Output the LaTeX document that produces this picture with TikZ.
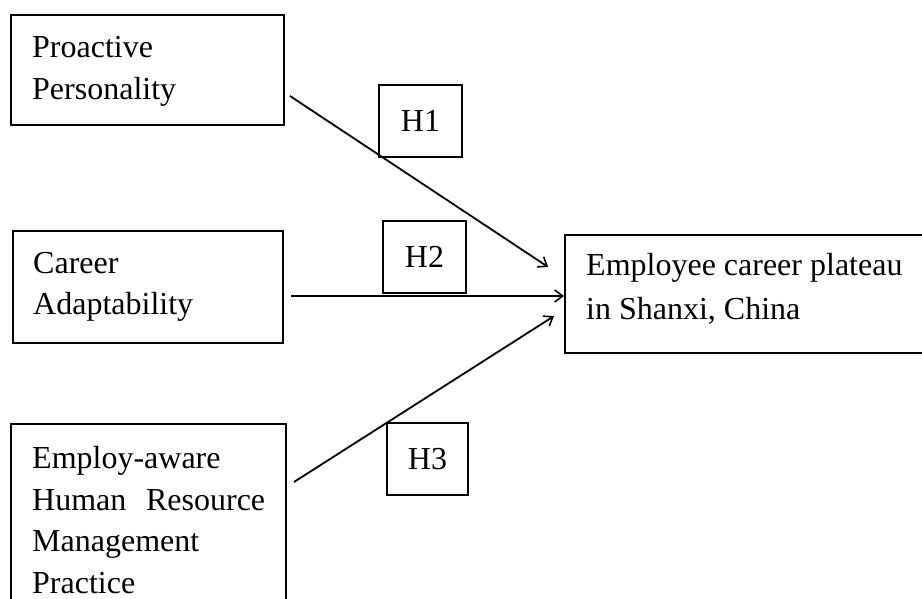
\documentclass[tikz,border=0pt]{standalone}
\usepackage{fontspec}
\setmainfont{Liberation Serif}
\usetikzlibrary{arrows.meta,calc}
\begin{document}
\begin{tikzpicture}[x=1pt,y=-1pt,
  boxnode/.style={draw=black,line width=2pt,rectangle,inner sep=0pt},
  txt/.style={anchor=base west,inner sep=0pt,font=\fontsize{32}{42}\selectfont},
  hbox/.style={draw=black,line width=2pt,rectangle,inner sep=0pt,
    font=\fontsize{32}{42}\selectfont},
  arr/.style={line width=1.8pt,-{Straight Barb[length=8pt,width=12pt,line width=1.6pt]}}]
\clip (0,0) rectangle (922,599);
\fill[white] (0,0) rectangle (922,599);
% boxes
\node[boxnode,minimum width=273pt,minimum height=110pt] (pp) at (147.5,70) {};
\node[boxnode,minimum width=270pt,minimum height=112pt] (ca) at (148,287) {};
\node[boxnode,minimum width=275pt,minimum height=216pt] (eh) at (148.5,532) {};
\node[boxnode,minimum width=370pt,minimum height=118pt] (tg) at (750,294) {};
% hypothesis boxes
\node[hbox,minimum width=83pt,minimum height=72pt] (h1) at (420.5,121) {H1};
\node[hbox,minimum width=83pt,minimum height=72pt] (h2) at (424.5,257) {H2};
\node[hbox,minimum width=81pt,minimum height=72pt] (h3) at (427.5,459) {H3};
% texts
\node[txt] (t1a) at (32,58) {Proactive};
\node[txt] (t1b) at (32,100) {Personality};
\node[txt] (t2a) at (33,273) {Career};
\node[txt] (t2b) at (33,314) {Adaptability};
\node[txt] (t3a) at (32,468) {Employ-aware};
\node[txt] (t3b) at (32,510) {\makebox[233pt][s]{Human Resource}};
\node[txt] (t3c) at (32,551) {Management};
\node[txt] (t3d) at (32,593) {Practice};
\node[txt] (t4a) at (586,275) {Employee career plateau};
\node[txt] (t4b) at (586,319) {in Shanxi, China};
% connectors
\draw[arr,shorten >=19pt] ($(pp.north east)+(5,82)$) -- ($(tg.north west)+(0,43.5)$);
\draw[arr] ($(ca.east)+(7,9)$) -- ($(tg.west)+(0,2)$);
\draw[arr,shorten >=12pt] ($(eh.north east)+(7,59)$) -- ($(tg.north west)+(0,75.7)$);
\end{tikzpicture}
\end{document}
